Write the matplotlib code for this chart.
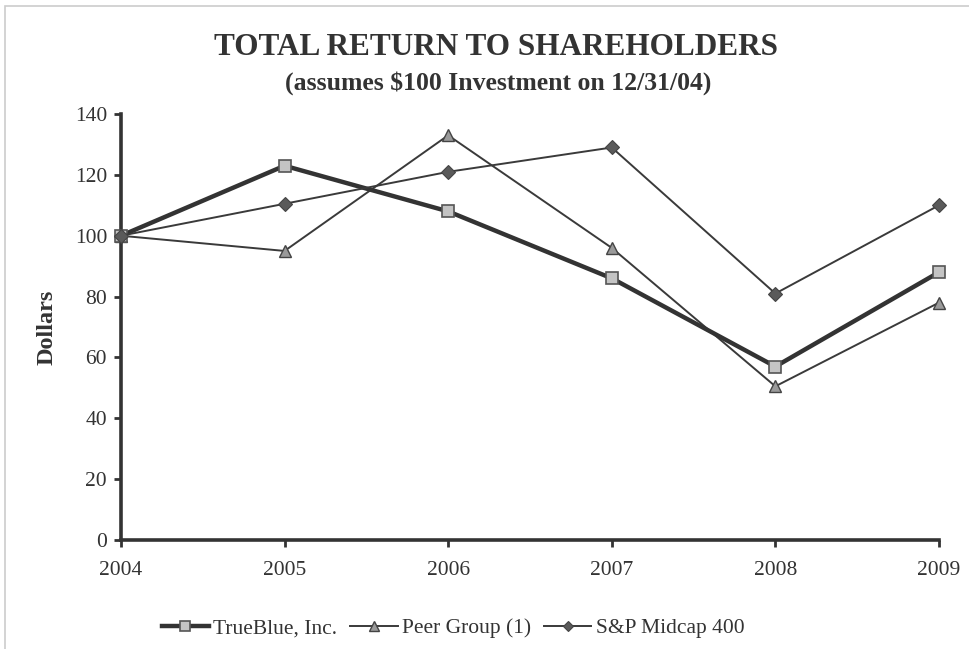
import matplotlib

matplotlib.use("Agg")
import matplotlib.pyplot as plt
from matplotlib.patches import Rectangle

years = [2004, 2005, 2006, 2007, 2008, 2009]
trueblue = [100, 123, 108, 86, 57, 88]
peer_group = [100, 95, 133, 96, 50.5, 78]
sp_midcap = [100, 110.5, 121, 129, 81, 110]
y_ticks = [0, 20, 40, 60, 80, 100, 120, 140]

plt.rcParams["font.family"] = ["Liberation Serif", "DejaVu Serif"]

fig = plt.figure(figsize=(9.7, 6.49), dpi=100)
ax = fig.add_axes([0.1247, 0.168, 0.8433, 0.6563])

ax.plot(years, trueblue, color="#333333", linewidth=3.2, marker="s", markersize=9,
        markerfacecolor="#c4c4c4", markeredgecolor="#555555", markeredgewidth=1.2,
        label="TrueBlue, Inc.", zorder=3, clip_on=False)
ax.plot(years, peer_group, color="#3a3a3a", linewidth=1.4, marker="^", markersize=9,
        markerfacecolor="#9a9a9a", markeredgecolor="#444444", markeredgewidth=1.0,
        label="Peer Group (1)", zorder=2, clip_on=False)
ax.plot(years, sp_midcap, color="#3a3a3a", linewidth=1.4, marker="D", markersize=7,
        markerfacecolor="#5a5a5a", markeredgecolor="#444444", markeredgewidth=0.8,
        label="S&P Midcap 400", zorder=4, clip_on=False)

ax.set_xlim(years[0], years[-1])
ax.set_ylim(0, 140)
ax.set_xticks(years)
ax.set_yticks(y_ticks)
ax.tick_params(axis="both", labelsize=15.5, colors="#333333", length=5, width=2, pad=5)
ax.tick_params(axis="x", pad=10)
for side in ["top", "right"]:
    ax.spines[side].set_visible(False)
for side in ["left", "bottom"]:
    ax.spines[side].set_linewidth(2.6)
    ax.spines[side].set_color("#333333")
ax.set_ylabel("Dollars", fontsize=17.5, fontweight="bold", color="#333333", labelpad=12)

fig.text(0.511, 0.927, "TOTAL RETURN TO SHAREHOLDERS", ha="center", va="center",
         fontsize=22.5, fontweight="bold", color="#333333")
fig.text(0.514, 0.872, "(assumes $100 Investment on 12/31/04)", ha="center", va="center",
         fontsize=18.5, fontweight="bold", color="#333333")

fig.legend(loc="center", bbox_to_anchor=(0.467, 0.032), ncol=3, frameon=False,
           fontsize=15.5, handlelength=2.2, columnspacing=0.6, handletextpad=0.2,
           markerscale=0.8, labelcolor="#333333")

fig.patches.append(Rectangle((0.005, -0.01), 1.0, 1.0, transform=fig.transFigure,
                             fill=False, edgecolor="#cccccc", linewidth=1.2))

fig.savefig("out.png", dpi=100)
